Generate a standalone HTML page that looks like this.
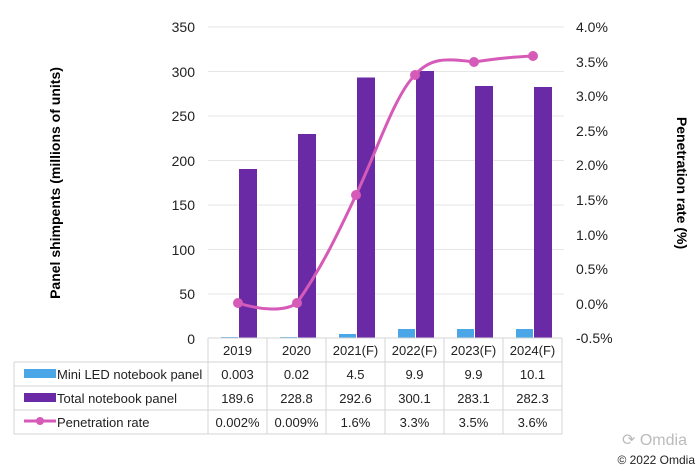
<!DOCTYPE html><html><head><style>body{margin:0;background:#fff}svg text{font-family:"Liberation Sans",sans-serif}</style></head><body>
<svg width="700" height="468" xmlns="http://www.w3.org/2000/svg">
<g stroke="#e6e6e6" stroke-width="1">
<line x1="208" x2="564" y1="27" y2="27"/><line x1="208" x2="564" y1="71.5" y2="71.5"/><line x1="208" x2="564" y1="116" y2="116"/><line x1="208" x2="564" y1="160.5" y2="160.5"/><line x1="208" x2="564" y1="205" y2="205"/><line x1="208" x2="564" y1="249.5" y2="249.5"/><line x1="208" x2="564" y1="294" y2="294"/>
</g>
<g font-size="14" fill="#222" text-anchor="end">
<text x="195" y="32">350</text><text x="195" y="77">300</text><text x="195" y="121">250</text><text x="195" y="166">200</text><text x="195" y="210">150</text><text x="195" y="255">100</text><text x="195" y="299">50</text><text x="195" y="344">0</text>
</g>
<g font-size="14" fill="#222">
<text x="576" y="32">4.0%</text><text x="576" y="67">3.5%</text><text x="576" y="101">3.0%</text><text x="576" y="136">2.5%</text><text x="576" y="170">2.0%</text><text x="576" y="205">1.5%</text><text x="576" y="240">1.0%</text><text x="576" y="274">0.5%</text><text x="576" y="309">0.0%</text><text x="576" y="343">-0.5%</text>
</g>
<text transform="translate(60,183) rotate(-90)" text-anchor="middle" font-size="14" font-weight="bold">Panel shimpents (millions of units)</text>
<text transform="translate(677,183) rotate(90)" text-anchor="middle" font-size="14" font-weight="bold">Penetration rate (%)</text>
<g fill="#6a2aa6">
<rect x="239" y="169" width="18" height="169"/><rect x="298" y="134" width="18" height="204"/><rect x="357" y="77.5" width="18" height="260.5"/><rect x="416" y="71" width="18" height="267"/><rect x="475" y="86" width="18" height="252"/><rect x="534" y="87" width="18" height="251"/>
</g>
<g fill="#4aa6e6">
<rect x="221" y="337" width="17" height="1"/><rect x="280" y="337" width="17" height="1"/><rect x="339" y="334" width="17" height="4"/><rect x="398" y="329" width="17" height="9"/><rect x="457" y="329" width="17" height="9"/><rect x="516" y="329" width="17" height="9"/>
</g>
<path d="M238,303 C260,310 285,312 297,303 C320,270 335,240 356,195 C378,148 395,95 415,75 C430,58 445,58 474,62 C500,58 515,57 533,56" fill="none" stroke="#d65ab8" stroke-width="3"/>
<g fill="#d65ab8"><circle cx="238" cy="303" r="5"/><circle cx="297" cy="303" r="5"/><circle cx="356" cy="195" r="5"/><circle cx="415" cy="75" r="5"/><circle cx="474" cy="62" r="5"/><circle cx="533" cy="56" r="5"/></g>
<g stroke="#d4d4d4" stroke-width="1" fill="none">
<path d="M208,338V434M267,338V434M326,338V434M385,338V434M444,338V434M503,338V434M562,338V434"/>
<path d="M14,362H562M14,386H562M14,410H562M14,434H562M14,362V434M208,338H562"/>
</g>
<g font-size="13" fill="#222" text-anchor="middle">
<text x="237.5" y="355">2019</text><text x="296.5" y="355">2020</text><text x="355.5" y="355">2021(F)</text><text x="414.5" y="355">2022(F)</text><text x="473.5" y="355">2023(F)</text><text x="532.5" y="355">2024(F)</text>
<text x="237.5" y="379">0.003</text><text x="296.5" y="379">0.02</text><text x="355.5" y="379">4.5</text><text x="414.5" y="379">9.9</text><text x="473.5" y="379">9.9</text><text x="532.5" y="379">10.1</text>
<text x="237.5" y="403">189.6</text><text x="296.5" y="403">228.8</text><text x="355.5" y="403">292.6</text><text x="414.5" y="403">300.1</text><text x="473.5" y="403">283.1</text><text x="532.5" y="403">282.3</text>
<text x="237.5" y="427">0.002%</text><text x="296.5" y="427">0.009%</text><text x="355.5" y="427">1.6%</text><text x="414.5" y="427">3.3%</text><text x="473.5" y="427">3.5%</text><text x="532.5" y="427">3.6%</text>
</g>
<rect x="24" y="369" width="32" height="9" fill="#4aa6e6"/>
<rect x="24" y="393" width="32" height="9" fill="#6a2aa6"/>
<line x1="24" x2="56" y1="421" y2="421" stroke="#d65ab8" stroke-width="3"/><circle cx="40" cy="421" r="4" fill="#d65ab8"/>
<g font-size="13" fill="#222"><text x="57" y="379">Mini LED notebook panel</text><text x="57" y="403">Total notebook panel</text><text x="57" y="427">Penetration rate</text></g>
<text x="622" y="445" font-size="16" fill="#bbb">⟳ Omdia</text>
<text x="695" y="464" font-size="12" fill="#222" text-anchor="end">© 2022 Omdia</text>
</svg></body></html>
